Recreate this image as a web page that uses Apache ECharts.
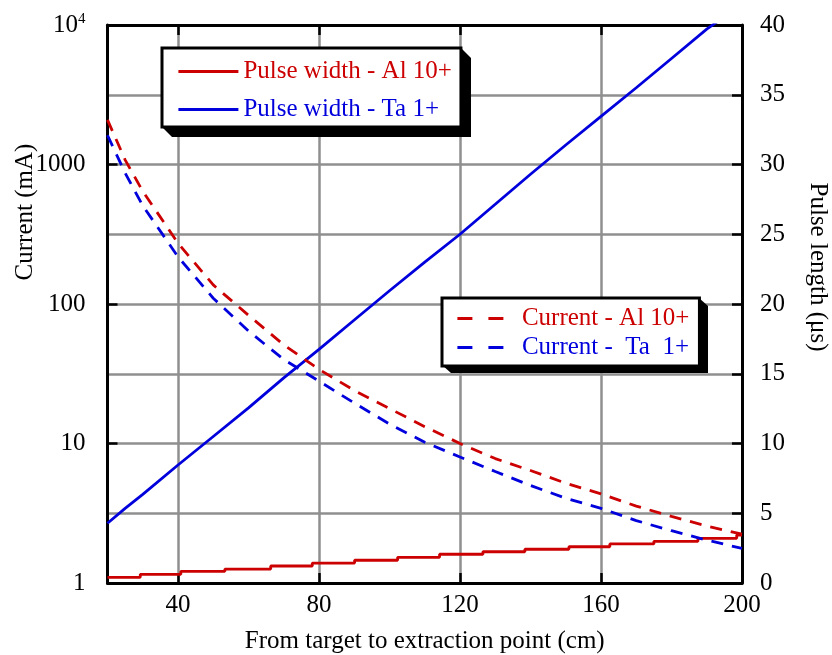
<!DOCTYPE html>
<html>
<head>
<meta charset="utf-8">
<script src="https://cdn.jsdelivr.net/npm/echarts@6/dist/echarts.min.js"></script>
<style>
  html, body { margin: 0; padding: 0; background: #fff; }
  #chart { width: 832px; height: 655px; }
</style>
</head>
<body>
<div id="chart"></div>
<script>
  // distance from target to extraction point (cm)
  var dist = [20, 25, 30, 40, 50, 60, 70, 80, 90, 100, 110, 120, 130, 140, 150, 160, 170, 180, 190, 200];
  // current (mA), left log axis
  var currentAl = [2090, 1080, 643, 273, 137, 83, 51, 34, 24, 17.8, 13.2, 10, 7.8, 6.4, 5.2, 4.35, 3.56, 3.0, 2.56, 2.24];
  var currentTa = [1620, 870, 507, 218, 110, 64, 40, 28, 19.5, 13.8, 10.2, 8.0, 6.3, 5.0, 4.05, 3.43, 2.8, 2.37, 2.03, 1.77];
  // pulse width (us), right axis
  var pulseTa = [4.28, 5.35, 6.35, 8.46, 10.5, 12.55, 14.7, 16.75, 18.85, 20.95, 23.0, 25.0, 27.15, 29.3, 31.4, 33.45, 35.5, 37.6, 39.7, 41.5];
  // Al 10+ pulse width is drawn as a staircase
  var stepDistAl = [20, 29.3, 40.8, 53.3, 66.3, 78.1, 90.1, 102.3, 114.2, 126.5, 138.4, 150.9, 162.5, 175, 187.5, 198.5, 200];
  var pulseAl = [0.41, 0.62, 0.84, 1.0, 1.22, 1.43, 1.63, 1.84, 2.06, 2.24, 2.42, 2.6, 2.8, 2.99, 3.2, 3.44, 3.44];
  // tick labels
  var xTicks = [40, 80, 120, 160, 200];
  var currentTicks = ['1', '10', '100', '1000', '10{sup|4}'];

  var RED = '#cc0000';
  var BLUE = '#0000dd';
  var FONT = 'Liberation Serif';

  function pairs(xs, ys) {
    return xs.map(function (x, i) { return [x, ys[i]]; });
  }

  // black drop shadow behind a legend box, with the corners cut off
  function boxShadow(l, t, r, b, dx, dy) {
    return {
      type: 'polygon', z: 3, silent: true,
      shape: { points: [[l, b], [l + dx, b + dy], [r + dx, b + dy], [r + dx, t + dy], [r, t]] },
      style: { fill: '#000' }
    };
  }

  var myChart = echarts.init(document.getElementById('chart'));
  var frame = { show: true, lineStyle: { color: '#000', width: 3 } };
  var tick = { show: true, inside: true, length: 10, lineStyle: { color: '#000', width: 2.5 } };
  var legendBase = {
    orient: 'vertical',
    itemHeight: 25,
    backgroundColor: '#fff',
    borderColor: '#000', borderWidth: 3, borderRadius: 0,
    selectedMode: false,
    itemStyle: { opacity: 0 },
    textStyle: { fontFamily: FONT, fontSize: 25 }
  };

  var option = {
    backgroundColor: '#fff',
    animation: false,
    textStyle: { fontFamily: FONT },
    grid: { left: 107.5, right: 90, top: 25, bottom: 72, outerBoundsMode: 'none' },
    legend: [Object.assign({}, legendBase, {
      left: 162, top: 48,
      padding: [11, 9, 5, 15],
      itemWidth: 60, itemGap: 13,
      lineStyle: { width: 2.8 },
      data: [
        { name: 'Pulse width - Al 10+', textStyle: { color: RED } },
        { name: 'Pulse width - Ta 1+', textStyle: { color: BLUE } }
      ]
    }), Object.assign({}, legendBase, {
      left: 442, top: 298,
      padding: [8, 10, 6, 14],
      itemWidth: 47, itemGap: 4,
      lineStyle: { width: 2.8, type: [15, 16] },
      formatter: '  {name}',
      data: [
        { name: 'Current - Al 10+', textStyle: { color: RED } },
        { name: 'Current -  Ta  1+', textStyle: { color: BLUE } }
      ]
    })],
    xAxis: [{
      type: 'value', min: 20, max: 200, position: 'bottom',
      name: 'From target to extraction point (cm)',
      nameLocation: 'middle', nameGap: 46,
      nameTextStyle: { fontFamily: FONT, fontSize: 25, color: '#000' },
      axisLine: frame,
      axisTick: Object.assign({ customValues: xTicks }, tick),
      axisLabel: { customValues: xTicks, fontFamily: FONT, fontSize: 25, color: '#000', margin: 10 },
      splitLine: { show: true, lineStyle: { color: '#8f8f8f', width: 2.5 } }
    }, {
      type: 'value', min: 20, max: 200, position: 'top',
      axisLine: frame,
      axisTick: Object.assign({ customValues: xTicks }, tick),
      axisLabel: { show: false },
      splitLine: { show: false }
    }],
    yAxis: [{
      type: 'log', logBase: 10, min: 1, max: 10000, position: 'left',
      axisLine: frame,
      axisTick: tick,
      axisLabel: {
        fontFamily: FONT, fontSize: 25, color: '#000', margin: 22,
        formatter: function (v) {
          var i = Math.round(Math.log10(v));
          return currentTicks[i];
        },
        rich: { sup: { fontFamily: FONT, fontSize: 15, verticalAlign: 'top', padding: [0, 0, 12, 0] } }
      },
      splitLine: { show: false }
    }, {
      type: 'value', min: 0, max: 40, interval: 5, position: 'right',
      axisLine: frame,
      axisTick: tick,
      axisLabel: { fontFamily: FONT, fontSize: 25, color: '#000', margin: 18 },
      splitLine: { show: true, lineStyle: { color: '#8f8f8f', width: 2.5 } }
    }],
    graphic: [
      boxShadow(162, 48, 461, 127, 10, 10),
      boxShadow(442, 298, 699, 365, 9, 8),
      {
        type: 'text', x: 25, y: 212, rotation: Math.PI / 2,
        style: { text: 'Current (mA)', font: '25px "Liberation Serif"', fill: '#000', align: 'center', verticalAlign: 'middle' }
      }, {
        type: 'text', x: 818, y: 267, rotation: -Math.PI / 2,
        style: { text: 'Pulse length (\u03bcs)', font: '25px "Liberation Serif"', fill: '#000', align: 'center', verticalAlign: 'middle' }
      }
    ],
    series: [{
      name: 'Pulse width - Al 10+', type: 'line', xAxisIndex: 0, yAxisIndex: 1,
      step: 'end', symbol: 'none', color: RED,
      lineStyle: { color: RED, width: 2.8 },
      data: pairs(stepDistAl, pulseAl)
    }, {
      name: 'Pulse width - Ta 1+', type: 'line', xAxisIndex: 0, yAxisIndex: 1,
      symbol: 'none', color: BLUE,
      lineStyle: { color: BLUE, width: 2.8 },
      data: pairs(dist, pulseTa)
    }, {
      name: 'Current - Al 10+', type: 'line', xAxisIndex: 0, yAxisIndex: 0,
      symbol: 'none', color: RED,
      lineStyle: { color: RED, width: 2.8, type: [12, 9] },
      data: pairs(dist, currentAl)
    }, {
      name: 'Current -  Ta  1+', type: 'line', xAxisIndex: 0, yAxisIndex: 0,
      symbol: 'none', color: BLUE,
      lineStyle: { color: BLUE, width: 2.8, type: [12, 9] },
      data: pairs(dist, currentTa)
    }]
  };

  myChart.setOption(option);
</script>
</body>
</html>
